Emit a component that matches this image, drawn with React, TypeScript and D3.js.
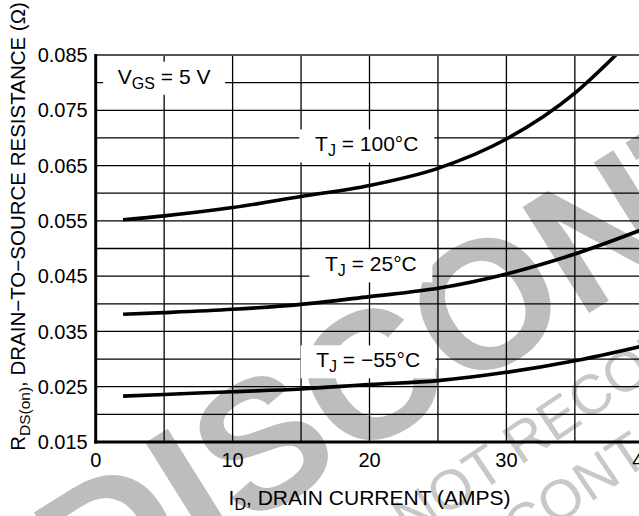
import * as d3 from 'd3';

// Drain current (A) and on-resistance (ohm)
const current100 = [2, 5, 10, 15, 20, 25, 30, 35, 38];
const rds100 = [0.0552, 0.0559, 0.0574, 0.0594, 0.0614, 0.0645, 0.0698, 0.0781, 0.085];

const current25 = [2, 5, 10, 15, 20, 25, 30, 35, 40];
const rds25 = [0.0381, 0.0384, 0.039, 0.0399, 0.0413, 0.0428, 0.0454, 0.049, 0.0535];

const currentM55 = [2, 5, 10, 15, 20, 25, 30, 35, 40];
const rdsM55 = [0.0233, 0.0236, 0.0241, 0.0246, 0.0254, 0.0261, 0.0276, 0.0297, 0.0324];

const xTickLabels = ['0', '10', '20', '30', '40'];
const xTickValues = [0, 10, 20, 30, 40];
const yTickLabels = ['0.015', '0.025', '0.035', '0.045', '0.055', '0.065', '0.075', '0.085'];
const yTickValues = [0.015, 0.025, 0.035, 0.045, 0.055, 0.065, 0.075, 0.085];

// curve labels: main letter, subscript, rest, and where the box sits (data units)
const labelMain = ['V', 'T', 'T', 'T'];
const labelSub = ['GS', 'J', 'J', 'J'];
const labelRest = [' = 5 V', ' = 100°C', ' = 25°C', ' = −55°C'];
const labelX = [5, 19.8, 20.1, 19.9];
const labelY = [0.0808, 0.06855, 0.04686, 0.0295];

const W = 639;
const H = 516;
const FONT = "'Liberation Sans', Arial, Helvetica, sans-serif";

export default function App() {
  const x = d3.scaleLinear().domain([0, 40]).range([95.7, 643.3]);
  const y = d3.scaleLinear().domain([0.015, 0.085]).range([442, 55]);

  const line = d3
    .line<[number, number]>()
    .x(d => x(d[0]))
    .y(d => y(d[1]))
    .curve(d3.curveMonotoneX);

  const series = [
    d3.zip(current100, rds100),
    d3.zip(current25, rds25),
    d3.zip(currentM55, rdsM55),
  ] as [number, number][][];

  const xGrid = d3.range(0, 40.01, 5);
  const yGrid = d3.range(0.015, 0.0851, 0.005);

  const [x0, x1] = x.range();
  const [yb, yt] = y.range();

  return (
    <svg
      width={W}
      height={H}
      style={{ position: 'absolute', left: 0, top: 0, background: '#fff', display: 'block' }}
      fontFamily={FONT}
    >
      <defs>
        <clipPath id="plot">
          <rect x={x0} y={yt} width={x1 - x0} height={yb - yt} />
        </clipPath>
      </defs>

      {/* watermark */}
      <g fill="#bdbdbd">
        <text
          transform="translate(90,625) rotate(-32)"
          fontSize={182}
          fontWeight="bold"
        >
          DISCONTINUED
        </text>
      </g>
      <g fill="#c8c8c8" fontSize={56}>
        <text transform="translate(410,540) rotate(-34)">NOT RECOMMENDED</text>
        <text transform="translate(520,550) rotate(-34)">CONTACT</text>
      </g>

      {/* grid */}
      <g stroke="#000" strokeWidth={1.3}>
        {xGrid.map(v => (
          <line key={'gx' + v} x1={x(v)} x2={x(v)} y1={yt} y2={yb} />
        ))}
        {yGrid.map(v => (
          <line key={'gy' + v} x1={x0} x2={W} y1={y(v)} y2={y(v)} />
        ))}
      </g>

      {/* label boxes */}
      {labelMain.map((m, i) => {
        const cx = x(labelX[i]);
        const cy = y(labelY[i]);
        const w = i === 0 ? 122 : i === 2 ? 123 : 135;
        return (
          <g key={'lab' + i}>
            <rect x={cx - w / 2} y={cy - 16.5} width={w} height={33} fill="#fff" />
            <text x={cx} y={cy + 5.5} textAnchor="middle" fontSize={21} fill="#000">
              {m}
              <tspan dy={5} fontSize={16}>{labelSub[i]}</tspan>
              <tspan dy={-5}>{labelRest[i]}</tspan>
            </text>
          </g>
        );
      })}

      {/* curves */}
      <g clipPath="url(#plot)" fill="none" stroke="#000" strokeWidth={3.6} strokeLinecap="butt">
        {series.map((s, i) => (
          <path key={'c' + i} d={line(s) || ''} />
        ))}
      </g>

      {/* frame */}
      <line x1={x0} x2={W} y1={yt} y2={yt} stroke="#555" strokeWidth={2} />
      <line x1={x0} x2={x0} y1={yt - 1} y2={yb + 1.5} stroke="#000" strokeWidth={3} />
      <line x1={x0 - 1.5} x2={W} y1={yb} y2={yb} stroke="#000" strokeWidth={3} />

      {/* tick labels */}
      <g fontSize={20} fill="#000">
        {yTickValues.map((v, i) => (
          <text key={'yt' + i} x={x0 - 8} y={y(v)} dy="0.36em" textAnchor="end">
            {yTickLabels[i]}
          </text>
        ))}
        {xTickValues.map((v, i) => (
          <text key={'xt' + i} x={x(v)} y={yb + 25} textAnchor="middle">
            {xTickLabels[i]}
          </text>
        ))}
      </g>

      {/* axis titles */}
      <text x={x(20)} y={505} textAnchor="middle" fontSize={21} fill="#000">
        I<tspan dy={5} fontSize={16}>D</tspan>
        <tspan dy={-5}>, DRAIN CURRENT (AMPS)</tspan>
      </text>
      <text
        transform={`translate(25,${(yb + yt) / 2 - 22}) rotate(-90)`}
        textAnchor="middle"
        fontSize={20.5}
        fill="#000"
      >
        R<tspan dy={5} fontSize={15.5}>DS(on)</tspan>
        <tspan dy={-5}>, DRAIN−TO−SOURCE RESISTANCE (Ω)</tspan>
      </text>
    </svg>
  );
}
